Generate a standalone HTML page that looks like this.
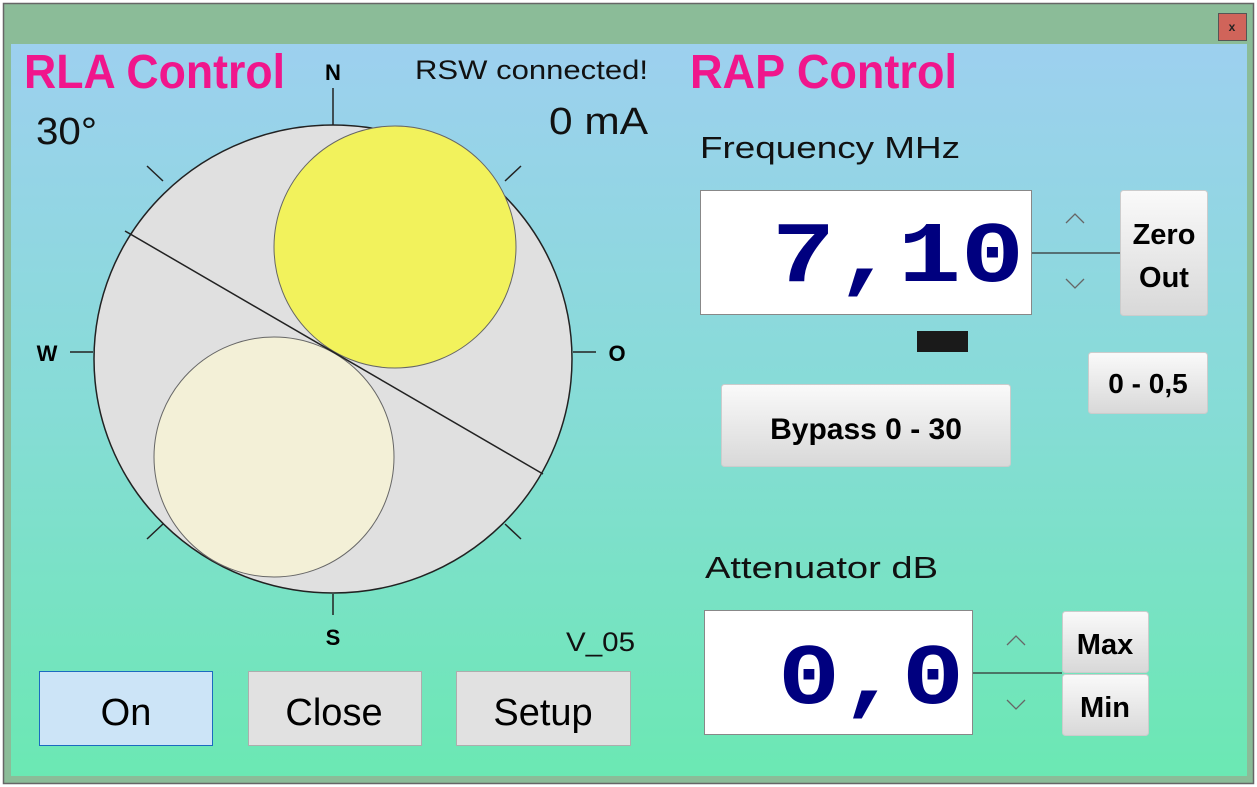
<!DOCTYPE html>
<html><head><meta charset="utf-8"><style>
html,body{margin:0;padding:0;background:#fff;}
svg{display:block;}
text{font-family:"Liberation Sans",sans-serif;}
</style></head><body>
<svg width="1257" height="787" viewBox="0 0 1257 787" xmlns="http://www.w3.org/2000/svg">
<defs>
<linearGradient id="bg" x1="0" y1="0" x2="0" y2="1">
<stop offset="0" stop-color="#9dd0ef"/><stop offset="0.5" stop-color="#86dcd6"/><stop offset="1" stop-color="#6be8b3"/>
</linearGradient>
<linearGradient id="btn" x1="0" y1="0" x2="0" y2="1">
<stop offset="0" stop-color="#fafafa"/><stop offset="1" stop-color="#d8d8d8"/>
</linearGradient>
</defs>
<rect x="3.5" y="3.5" width="1250" height="780" fill="#8bbc98" stroke="#666" stroke-width="1.5"/>
<rect x="1218.5" y="13.5" width="28" height="27" fill="#d0645a" stroke="#555"/>
<text x="1232" y="31" font-size="12" font-weight="bold" text-anchor="middle" fill="#222">x</text>
<rect x="11" y="44" width="1236" height="732" fill="url(#bg)"/>

<g stroke="#222" stroke-width="1.5">
<line x1="333" y1="88" x2="333" y2="125"/>
<line x1="333" y1="594" x2="333" y2="615"/>
<line x1="70" y1="352" x2="93" y2="352"/>
<line x1="573" y1="352" x2="596" y2="352"/>
<line x1="147" y1="166" x2="163" y2="181"/>
<line x1="521" y1="166" x2="505" y2="181"/>
<line x1="147" y1="539" x2="163" y2="524"/>
<line x1="521" y1="539" x2="505" y2="524"/>
</g>
<ellipse cx="333" cy="359" rx="239" ry="234" fill="#e0e0e0" stroke="#222" stroke-width="1.5"/>
<circle cx="395" cy="247" r="121" fill="#f2f25c" stroke="#666" stroke-width="1"/>
<circle cx="274" cy="457" r="120" fill="#f3f0d7" stroke="#666" stroke-width="1"/>
<line x1="125" y1="231" x2="543" y2="474" stroke="#222" stroke-width="1.5"/>

<text x="333" y="80" font-size="22" font-weight="bold" text-anchor="middle" fill="#000">N</text>
<text x="333" y="645" font-size="22" font-weight="bold" text-anchor="middle" fill="#000">S</text>
<text x="47" y="361" font-size="22" font-weight="bold" text-anchor="middle" fill="#000">W</text>
<text x="617" y="361" font-size="22" font-weight="bold" text-anchor="middle" fill="#000">O</text>

<text x="24" y="88" font-size="48" font-weight="bold" fill="#f0168c" textLength="261" lengthAdjust="spacingAndGlyphs">RLA Control</text>
<text x="690" y="88" font-size="48" font-weight="bold" fill="#f0168c" textLength="267" lengthAdjust="spacingAndGlyphs">RAP Control</text>
<text x="415" y="79" font-size="27" fill="#111" textLength="233" lengthAdjust="spacingAndGlyphs">RSW connected!</text>
<text x="36" y="144" font-size="38" fill="#111" textLength="61" lengthAdjust="spacingAndGlyphs">30°</text>
<text x="549" y="134" font-size="38" fill="#111" textLength="99" lengthAdjust="spacingAndGlyphs">0 mA</text>
<text x="566" y="651" font-size="27" fill="#111" textLength="69" lengthAdjust="spacingAndGlyphs">V_05</text>

<rect x="39.5" y="671.5" width="173" height="74" fill="#cce4f7" stroke="#1b6ac0"/>
<rect x="248.5" y="671.5" width="173" height="74" fill="#e1e1e1" stroke="#adadad"/>
<rect x="456.5" y="671.5" width="174" height="74" fill="#e1e1e1" stroke="#adadad"/>
<text x="126" y="725" font-size="38" text-anchor="middle" fill="#000">On</text>
<text x="334" y="725" font-size="38" text-anchor="middle" fill="#000">Close</text>
<text x="543" y="725" font-size="38" text-anchor="middle" fill="#000">Setup</text>

<text x="700" y="158" font-size="31" fill="#111" textLength="260" lengthAdjust="spacingAndGlyphs">Frequency MHz</text>
<rect x="700.5" y="190.5" width="331" height="124" fill="#fff" stroke="#888"/>
<text x="772" y="281" font-size="86" font-weight="bold" fill="#00007f" textLength="252" lengthAdjust="spacingAndGlyphs" style="font-family:'Liberation Mono',monospace">7,10</text>
<line x1="1032" y1="253" x2="1120" y2="253" stroke="#333" stroke-width="1.3"/>
<polyline points="1066,223 1075,214 1084,223" fill="none" stroke="#666" stroke-width="1.3"/>
<polyline points="1066,279 1075,288 1084,279" fill="none" stroke="#666" stroke-width="1.3"/>
<rect x="1120.5" y="190.5" width="87" height="125" rx="3" fill="url(#btn)" stroke="#ccc"/>
<text x="1164" y="244" font-size="29" font-weight="bold" text-anchor="middle" fill="#000">Zero</text>
<text x="1164" y="287" font-size="29" font-weight="bold" text-anchor="middle" fill="#000">Out</text>
<rect x="917" y="331" width="51" height="21" fill="#1a1a1a"/>
<rect x="1088.5" y="352.5" width="119" height="61" rx="3" fill="url(#btn)" stroke="#ccc"/>
<text x="1148" y="393" font-size="28" font-weight="bold" text-anchor="middle" fill="#000">0 - 0,5</text>
<rect x="721.5" y="384.5" width="289" height="82" rx="3" fill="url(#btn)" stroke="#ccc"/>
<text x="866" y="439" font-size="30" font-weight="bold" text-anchor="middle" fill="#000">Bypass 0 - 30</text>

<text x="705" y="578" font-size="31" fill="#111" textLength="233" lengthAdjust="spacingAndGlyphs">Attenuator dB</text>
<rect x="704.5" y="610.5" width="268" height="124" fill="#fff" stroke="#888"/>
<text x="778" y="703" font-size="86" font-weight="bold" fill="#00007f" textLength="186" lengthAdjust="spacingAndGlyphs" style="font-family:'Liberation Mono',monospace">0,0</text>
<line x1="973" y1="673" x2="1062" y2="673" stroke="#333" stroke-width="1.3"/>
<polyline points="1007,645 1016,636 1025,645" fill="none" stroke="#666" stroke-width="1.3"/>
<polyline points="1007,700 1016,709 1025,700" fill="none" stroke="#666" stroke-width="1.3"/>
<rect x="1062.5" y="611.5" width="86" height="61" rx="3" fill="url(#btn)" stroke="#ccc"/>
<rect x="1062.5" y="674.5" width="86" height="61" rx="3" fill="url(#btn)" stroke="#ccc"/>
<text x="1105" y="654" font-size="29" font-weight="bold" text-anchor="middle" fill="#000">Max</text>
<text x="1105" y="717" font-size="29" font-weight="bold" text-anchor="middle" fill="#000">Min</text>
</svg>
</body></html>
